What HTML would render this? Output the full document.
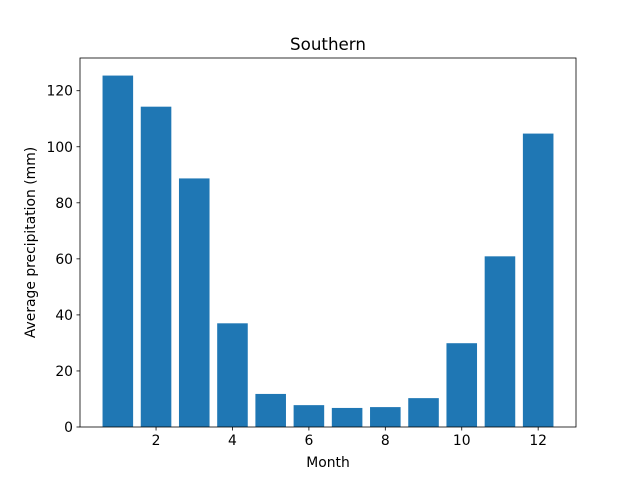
<!DOCTYPE html>
<html><head><meta charset="utf-8"><style>body{margin:0;background:#fff}svg{display:block;font-family:"DejaVu Sans","Liberation Sans",sans-serif}</style></head>
<body>
<svg id="chart" width="640" height="480">
<rect width="640" height="480" fill="#fff"/>
<text x="328" y="50" font-size="16.7" text-anchor="middle">Southern</text>
<g id="bars"></g><g id="xt"></g><g id="yt"></g>
<rect x="80" y="58" width="496" height="369" fill="none" stroke="#000" stroke-width="0.8"/>
<text x="328" y="467" font-size="13.9" text-anchor="middle">Month</text>
<text transform="translate(35,242.5) rotate(-90)" font-size="13.9" text-anchor="middle">Average precipitation (mm)</text>
</svg>
<script>
const months=[1,2,3,4,5,6,7,8,9,10,11,12];
const precip=[125.4,114.3,88.7,37.0,11.8,7.8,6.8,7.1,10.3,29.9,60.9,104.7];
const xTicks=[2,4,6,8,10,12];
const yTicks=[0,20,40,60,80,100,120];
const L=80,R=576,T=58,B=427;
const xmin=0.01,xmax=12.99,ymax=Math.max(...precip)*1.05;
const sx=v=>L+(v-xmin)/(xmax-xmin)*(R-L);
const sy=v=>B-v/ymax*(B-T);
const NS="http://www.w3.org/2000/svg";
const mk=(t,a,p)=>{const e=document.createElementNS(NS,t);for(const k in a)e.setAttribute(k,a[k]);p.appendChild(e);return e;};
const bars=document.getElementById('bars');
months.forEach((m,i)=>{const r=mk('rect',{x:sx(m-0.4),y:sy(precip[i]),width:sx(m+0.4)-sx(m-0.4),height:B-sy(precip[i]),fill:'#1f77b4'},bars);

});
const xt=document.getElementById('xt');
xTicks.forEach(v=>{const x=sx(v);mk('line',{x1:x,x2:x,y1:B,y2:B+3.5,stroke:'#000','stroke-width':0.8},xt);
const t=mk('text',{x:x,y:B+18,'font-size':13.9,'text-anchor':'middle'},xt);t.textContent=v;

});
const yt=document.getElementById('yt');
yTicks.forEach(v=>{const y=sy(v);mk('line',{x1:L-3.5,x2:L,y1:y,y2:y,stroke:'#000','stroke-width':0.8},yt);
const t=mk('text',{x:L-7,y:y+5,'font-size':13.9,'text-anchor':'end'},yt);t.textContent=v;

});
</script>
</body></html>
